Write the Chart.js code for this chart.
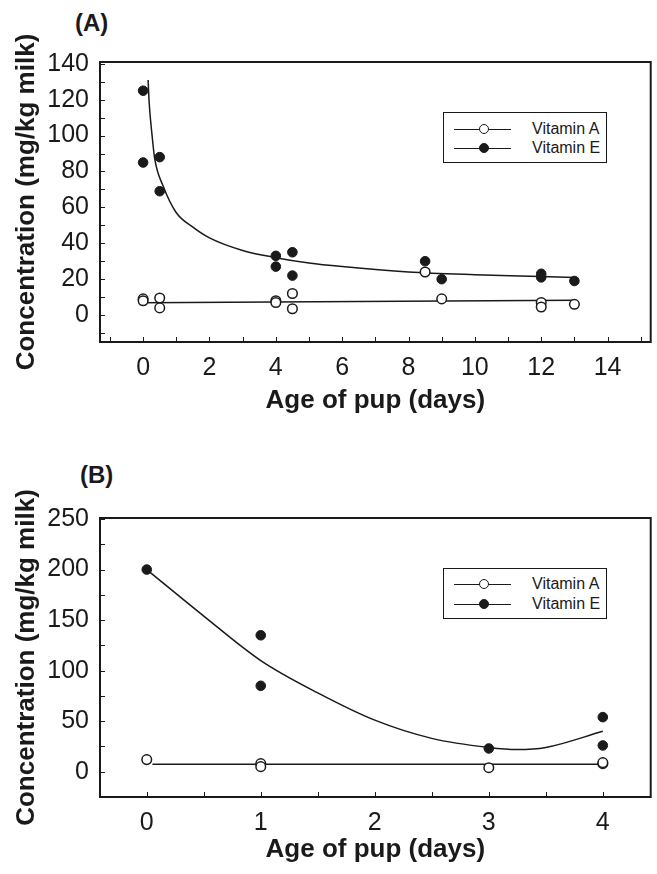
<!DOCTYPE html>
<html>
<head>
<meta charset="utf-8">
<title>Vitamin A and E in milk</title>
<script src="https://cdn.jsdelivr.net/npm/chart.js@4.4.0/dist/chart.umd.min.js"></script>
<style>
  html, body { margin: 0; padding: 0; background: #fff; }
  body { position: relative; width: 657px; height: 874px; overflow: hidden; font-family: "Liberation Sans", Arial, sans-serif; color: #1a1a1a; }
  .panel { position: absolute; left: 0; width: 657px; height: 437px; }
  .tag { position: absolute; font-size: 24px; font-weight: bold; line-height: 24px; }
  .legend { position: absolute; width: 162px; height: 49px; border: 1px solid #1a1a1a; background: #fff; }
  .legend .row { position: absolute; left: 0; width: 162px; height: 18px; }
  .legend .line { position: absolute; left: 10px; top: 9px; width: 57px; border-top: 1px solid #1a1a1a; }
  .legend .dot { position: absolute; left: 35px; top: 4px; width: 8px; height: 8px; border-radius: 50%; border: 1.3px solid #1a1a1a; }
  .legend .open { background: #fff; }
  .legend .full { background: #1a1a1a; }
  .legend .lbl { position: absolute; left: 88px; top: 0; font-size: 16px; line-height: 18px; }
</style>
</head>
<body>

<div class="tag" style="left:75px; top:11px;">(A)</div>
<div class="panel" style="top:0;"><canvas id="chartA" width="657" height="437"></canvas></div>
<div class="legend" style="left:443px; top:112px;">
  <div class="row" style="top:7px;"><span class="line"></span><span class="dot open"></span><span class="lbl">Vitamin A</span></div>
  <div class="row" style="top:26px;"><span class="line"></span><span class="dot full"></span><span class="lbl">Vitamin E</span></div>
</div>

<div class="tag" style="left:80px; top:463px;">(B)</div>
<div class="panel" style="top:437px;"><canvas id="chartB" width="657" height="437"></canvas></div>
<div class="legend" style="left:443px; top:568px;">
  <div class="row" style="top:6px;"><span class="line"></span><span class="dot open"></span><span class="lbl">Vitamin A</span></div>
  <div class="row" style="top:26px;"><span class="line"></span><span class="dot full"></span><span class="lbl">Vitamin E</span></div>
</div>

<script>
// ===== (A) sut namunalari, 0-13 kun =====
var agesA_vitA = [0, 0, 0.5, 0.5, 4, 4, 4.5, 4.5, 8.5, 9, 12, 12, 13];
var valuesA_vitA = [9, 8, 9.5, 4, 8, 7, 12, 3.5, 24, 9, 7, 4.5, 6];
var agesA_vitE = [0, 0, 0.5, 0.5, 4, 4, 4.5, 4.5, 8.5, 9, 12, 12, 13];
var valuesA_vitE = [125, 85, 88, 69, 33, 27, 35, 22, 30, 20, 23, 21, 19];

// fitted curves
var fitA_vitA_x = [0, 13];
var fitA_vitA_y = [6.8, 8.2];
var fitA_vitE_x = [0.15, 0.18, 0.27, 0.35, 0.6, 1, 1.5, 2, 3, 4, 5, 6, 8, 10, 12, 13];
var fitA_vitE_y = [131, 119, 100, 87, 72, 57, 49, 43, 36, 32, 29, 27, 24, 22.5, 21.5, 21];

var xTicksA = [0, 2, 4, 6, 8, 10, 12, 14];
var yTicksA = [0, 20, 40, 60, 80, 100, 120, 140];

// ===== (B) sut namunalari, 0-4 kun =====
var agesB_vitA = [0, 1, 1, 3, 4, 4];
var valuesB_vitA = [12, 8, 5, 4, 8, 9];
var agesB_vitE = [0, 1, 1, 3, 4, 4];
var valuesB_vitE = [200, 135, 85, 23, 54, 26];

var fitB_vitA_x = [0.05, 4];
var fitB_vitA_y = [7.5, 7.5];
var fitB_vitE_x = [0, 0.5, 1, 1.5, 2, 2.5, 3, 3.25, 3.5, 4];
var fitB_vitE_y = [200, 154, 110, 78, 51, 33, 24, 22, 24, 40];

var xTicksB = [0, 1, 2, 3, 4];
var yTicksB = [0, 50, 100, 150, 200, 250];

var INK = "#1a1a1a";
var FONT = "'Liberation Sans', Arial, sans-serif";
var TICK_FONT = "'Liberation Sans Narrow', 'Arial Narrow', 'Liberation Sans', Arial, sans-serif";

function toPoints(xs, ys) {
    var pts = [];
    for (var i = 0; i < xs.length; i++) {
        pts.push({ x: xs[i], y: ys[i] });
    }
    return pts;
}

// oraliq qiymatlar (minor tick) - faqat o'q belgilari uchun
function steps(from, to, step) {
    var out = [];
    for (var v = from; v <= to + 1e-9; v += step) out.push(v);
    return out;
}

// ramka va ichkariga qaragan tick belgilari
var framePlugin = {
    id: "frame",
    afterDatasetsDraw: function(chart, args, opts) {
        var a = chart.chartArea;
        var ctx = chart.ctx;
        var sx = chart.scales.x, sy = chart.scales.y;
        ctx.save();
        ctx.strokeStyle = INK;
        ctx.lineWidth = 1;
        (opts.minorX || []).forEach(function(v) {
            var px = Math.round(sx.getPixelForValue(v)) + 0.5;
            ctx.beginPath(); ctx.moveTo(px, a.bottom); ctx.lineTo(px, a.bottom - 5); ctx.stroke();
        });
        (opts.minorY || []).forEach(function(v) {
            var py = Math.round(sy.getPixelForValue(v)) + 0.5;
            ctx.beginPath(); ctx.moveTo(a.left, py); ctx.lineTo(a.left + 5, py); ctx.stroke();
        });
        ctx.lineWidth = 2;
        ctx.strokeRect(a.left, a.top, a.right - a.left, a.bottom - a.top);
        ctx.restore();
    }
};

function makePanel(id, s) {
    var ctx = document.getElementById(id);
    return new Chart(ctx, {
        type: "scatter",
        data: {
            datasets: [
                { label: "Vitamin A", data: toPoints(s.ax, s.ay), order: 0,
                  pointRadius: 4.8, pointBackgroundColor: "#fff", pointBorderColor: INK, pointBorderWidth: 1.5 },
                { label: "Vitamin E", data: toPoints(s.ex, s.ey), order: 0,
                  pointRadius: 4.8, pointBackgroundColor: INK, pointBorderColor: INK, pointBorderWidth: 1 },
                { label: "fit A", data: toPoints(s.fax, s.fay), order: 1, showLine: true,
                  pointRadius: 0, borderColor: INK, borderWidth: 1.5 },
                { label: "fit E", data: toPoints(s.fex, s.fey), order: 1, showLine: true,
                  pointRadius: 0, borderColor: INK, borderWidth: 1.5, cubicInterpolationMode: "monotone" }
            ]
        },
        options: {
            responsive: false,
            animation: false,
            events: [],
            layout: { padding: { top: s.padTop, right: s.padRight, left: 0, bottom: 0 } },
            plugins: {
                legend: { display: false },
                tooltip: { enabled: false },
                frame: { minorX: s.minorX, minorY: s.minorY }
            },
            scales: {
                x: {
                    type: "linear",
                    min: s.xMin, max: s.xMax,
                    afterBuildTicks: function(scale) {
                        scale.ticks = s.xTicks.map(function(v) { return { value: v }; });
                    },
                    afterFit: function(scale) { scale.height = s.xAxisHeight; },
                    grid: { display: false, drawTicks: false },
                    border: { display: false },
                    ticks: { color: INK, padding: 11, maxRotation: 0, font: { family: TICK_FONT, size: 25 } },
                    title: {
                        display: true, text: "Age of pup (days)", color: INK,
                        font: { family: FONT, size: 26, weight: "bold" },
                        padding: { top: 0, bottom: s.xTitlePad }
                    }
                },
                y: {
                    type: "linear",
                    min: s.yMin, max: s.yMax,
                    afterBuildTicks: function(scale) {
                        scale.ticks = s.yTicks.map(function(v) { return { value: v }; });
                    },
                    afterFit: function(scale) { scale.width = 100; },
                    grid: { display: false, drawTicks: false },
                    border: { display: false },
                    ticks: { color: INK, padding: 11, font: { family: TICK_FONT, size: 25 } },
                    title: {
                        display: true, text: "Concentration (mg/kg milk)", color: INK,
                        font: { family: FONT, size: 26, weight: "bold" },
                        padding: { top: 11, bottom: 0 }
                    }
                }
            }
        },
        plugins: [framePlugin]
    });
}

makePanel("chartA", {
    ax: agesA_vitA, ay: valuesA_vitA, ex: agesA_vitE, ey: valuesA_vitE,
    fax: fitA_vitA_x, fay: fitA_vitA_y, fex: fitA_vitE_x, fey: fitA_vitE_y,
    xMin: -1.3, xMax: 15.3, yMin: -15, yMax: 141,
    xTicks: xTicksA, yTicks: yTicksA,
    minorX: steps(-1, 15, 1), minorY: steps(-10, 140, 10),
    padTop: 62, padRight: 5, xAxisHeight: 95, xTitlePad: 21
});

makePanel("chartB", {
    ax: agesB_vitA, ay: valuesB_vitA, ex: agesB_vitE, ey: valuesB_vitE,
    fax: fitB_vitA_x, fay: fitB_vitA_y, fex: fitB_vitE_x, fey: fitB_vitE_y,
    xMin: -0.41, xMax: 4.42, yMin: -25, yMax: 251,
    xTicks: xTicksB, yTicks: yTicksB,
    minorX: steps(0, 4, 0.5), minorY: steps(-25, 250, 25),
    padTop: 81, padRight: 2, xAxisHeight: 77, xTitlePad: 9
});
</script>
</body>
</html>
